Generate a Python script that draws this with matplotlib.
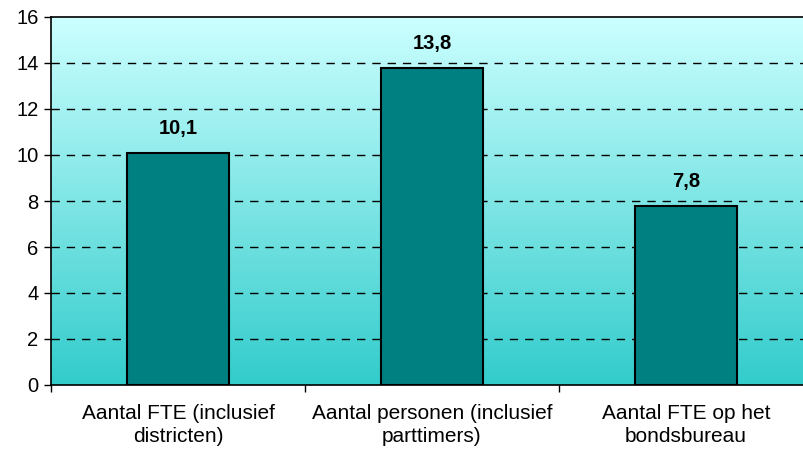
import matplotlib
matplotlib.use("Agg")
import matplotlib.pyplot as plt
import numpy as np
from matplotlib.colors import LinearSegmentedColormap

categories = ["Aantal FTE (inclusief\ndistricten)",
              "Aantal personen (inclusief\nparttimers)",
              "Aantal FTE op het\nbondsbureau"]
values = [10.1, 13.8, 7.8]
value_labels = ["10,1", "13,8", "7,8"]
yticks = [0, 2, 4, 6, 8, 10, 12, 14, 16]

plt.rcParams['font.family'] = ['Liberation Sans', 'DejaVu Sans']

W, H = 804, 457
fig = plt.figure(figsize=(W / 100, H / 100), dpi=100)
left, right, top, bottom = 51, 813, 17, 385
ax = fig.add_axes([left / W, 1 - bottom / H, (right - left) / W, (bottom - top) / H])

# gradient background
cmap = LinearSegmentedColormap.from_list("bg", ["#33CCCC", "#CCFFFF"])
grad = np.linspace(0, 1, 256).reshape(-1, 1)
ax.imshow(grad, aspect='auto', cmap=cmap, origin='lower',
          extent=[0, 1, 0, 1], transform=ax.transAxes, zorder=0)

x = np.arange(len(categories))
ax.set_xlim(-0.5, len(categories) - 0.5)
ax.set_ylim(0, 16)

for yv in yticks[1:-1]:
    ax.axhline(yv, color='black', lw=1.0, ls=(0, (6, 5)), zorder=1)

bars = ax.bar(x, values, width=0.4, color='#008080', edgecolor='black',
              linewidth=1.5, zorder=2)

for xi, v, lab in zip(x, values, value_labels):
    ax.annotate(lab, (xi, v), xytext=(0, 10.5), textcoords='offset points',
                ha='center', va='bottom', fontsize=14.5, fontweight='bold', zorder=3)

ax.set_yticks(yticks)
ax.set_yticklabels([str(t) for t in yticks], fontsize=14.5)
ax.set_xticks(x)
ax.set_xticklabels(categories, fontsize=15, linespacing=1.25, multialignment='center')
ax.set_xticks(np.arange(-0.5, len(categories), 1.0), minor=True)
ax.tick_params(axis='x', which='major', length=0, pad=14)
ax.tick_params(axis='x', which='minor', length=5, width=1, direction='out')
ax.tick_params(axis='y', length=5, width=1, direction='out', pad=4)

for s in ['left', 'bottom', 'top']:
    ax.spines[s].set_color('black')
    ax.spines[s].set_linewidth(1.2)
ax.spines['right'].set_visible(False)

fig.savefig("out.png", dpi=100)
